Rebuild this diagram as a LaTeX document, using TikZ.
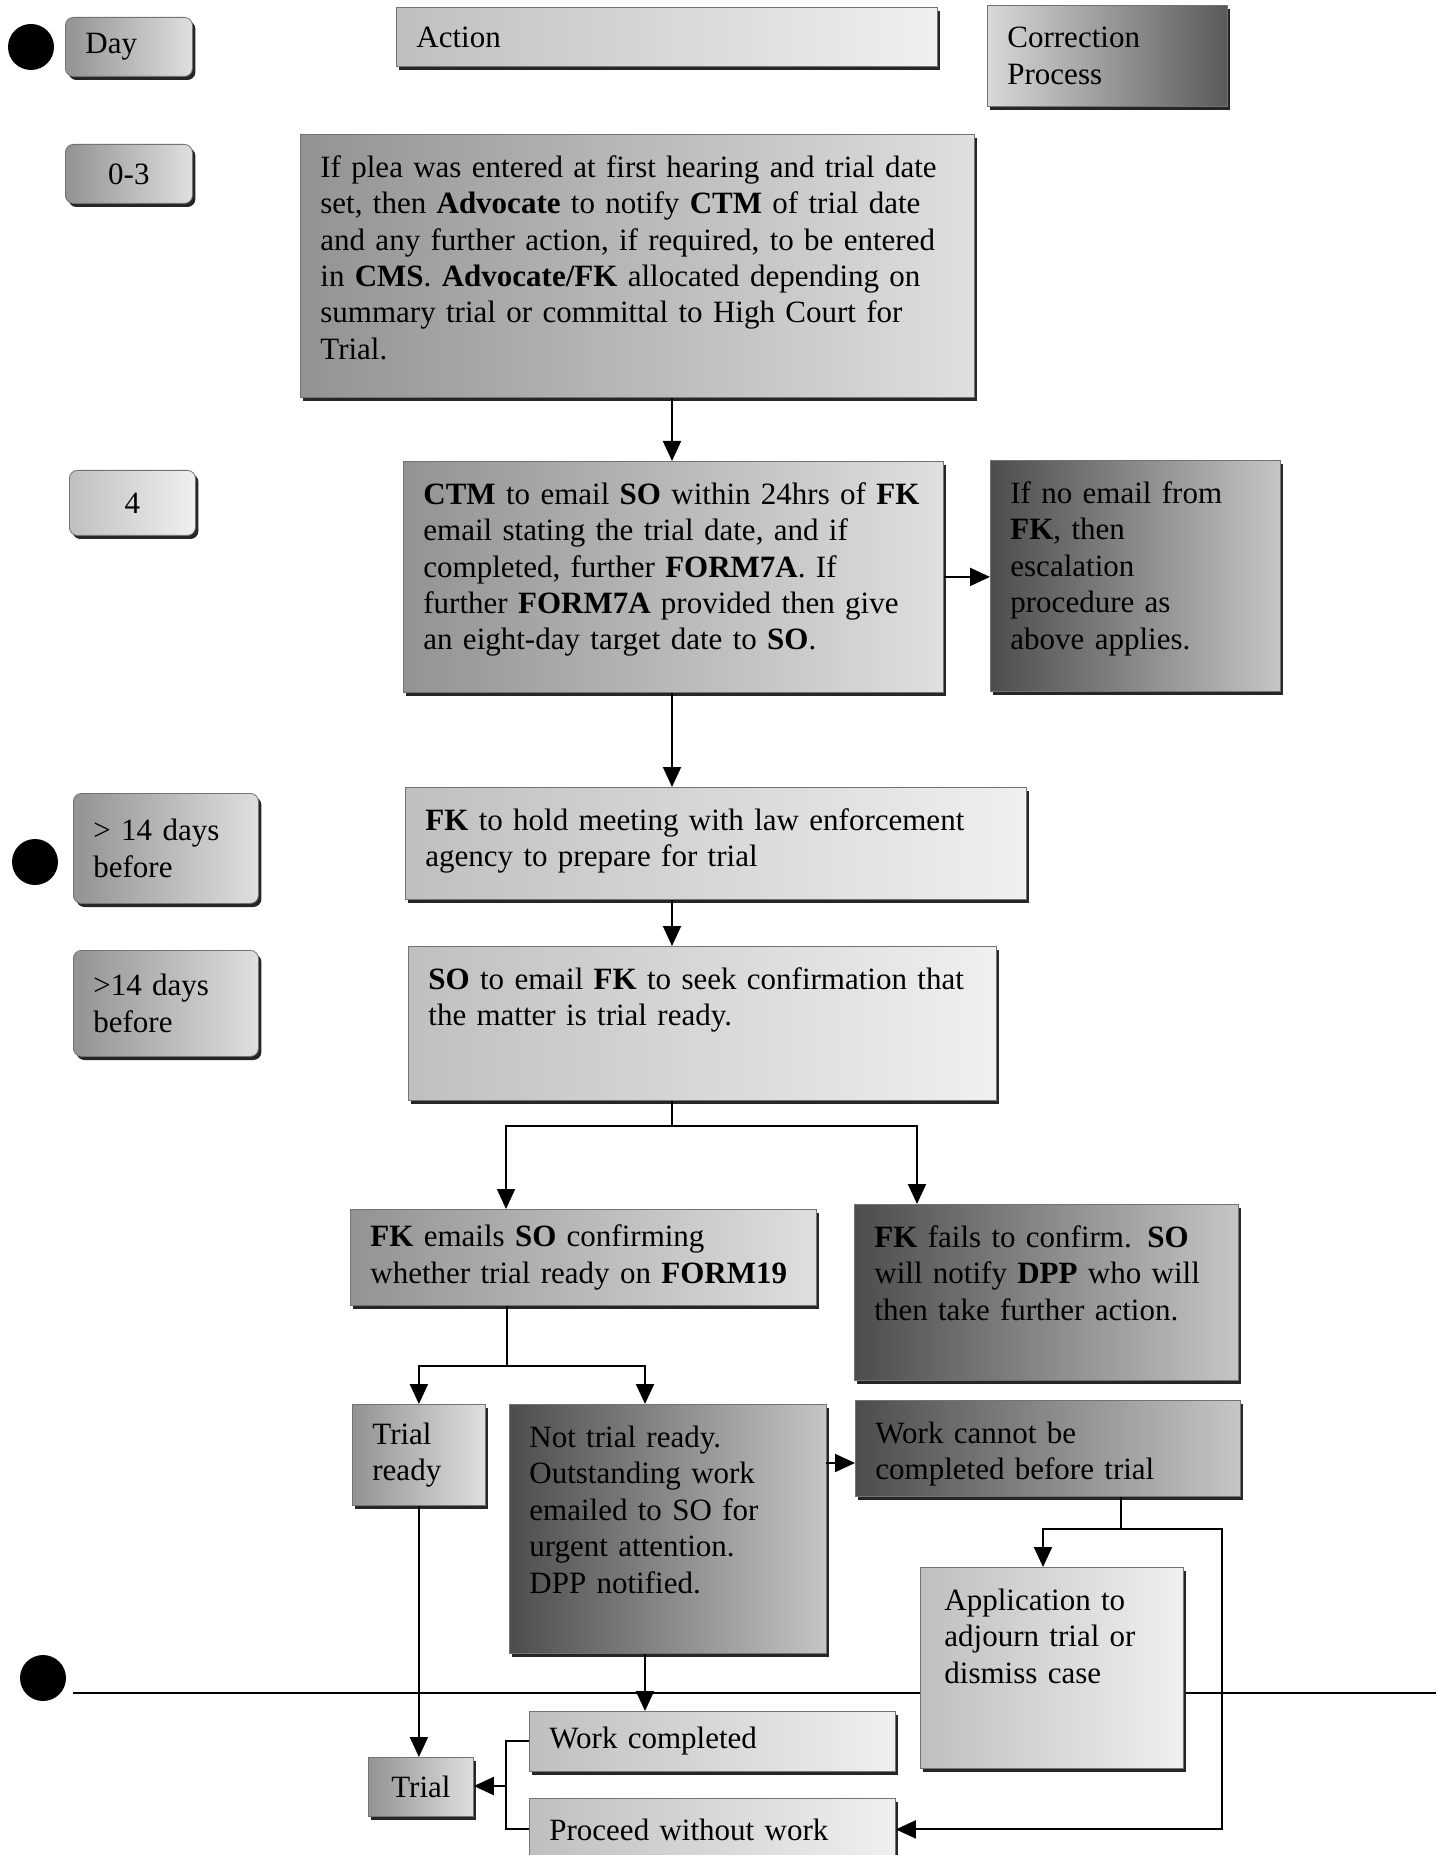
\documentclass[tikz,border=0pt]{standalone}
\usepackage{fontspec}
\setmainfont{Liberation Serif}
\usepackage{tikz}
\usetikzlibrary{positioning,arrows.meta,shadows}
\hyphenpenalty=10000
\exhyphenpenalty=10000
\tikzset{
  base/.style={draw=black!55,line width=0.4pt,font=\fontsize{15.5}{18.2}\selectfont,align=left,anchor=north west,inner xsep=10pt,
    drop shadow={shadow xshift=1.5pt,shadow yshift=-1.8pt,fill=black!85,opacity=1}},
  cell/.style={base,inner ysep=10.5pt,text height=11pt},
  tag/.style={base,inner ysep=0pt},
  daybox/.style={tag,rounded corners=4pt},
  pale/.style={left color=gray!50,right color=gray!12},
  mid/.style={left color=gray!85,right color=gray!25},
  dark/.style={left color=black!70,right color=gray!45},
  darkright/.style={left color=gray!30,right color=black!65},
  edge/.style={-{Triangle[length=10pt,width=9pt]},line width=1pt},
  link/.style={line width=1pt},
  dot/.style={circle,fill=black,inner sep=0pt,minimum size=23pt}
}
\begin{document}
\begin{tikzpicture}[x=0.5pt,y=-0.5pt]
  \useasboundingbox (0,0) rectangle (1436,1855);

  % trial day rule
  \draw[link] (73,1693) -- (1436,1693);
  \node[dot] (mark1) at (31,47) {};
  \node[dot] (mark2) at (35,862) {};
  \node[dot] (mark3) at (43,1678) {};

  % headings
  \node[daybox,mid,text width=43.5pt,minimum height=29.5pt] (day) at (65,17) {Day};
  \node[tag,pale,text width=250.5pt,minimum height=29.5pt] (action) at (396,7) {Action};
  \node[tag,darkright,text width=100pt,minimum height=50.5pt] (corr) at (987,5) {Correction\\Process};

  % days column
  \node[daybox,mid,align=center,text width=43.5pt,minimum height=29.5pt] (d03) at (65,144) {0-3};
  \node[daybox,pale,align=center,text width=43pt,minimum height=32.5pt] (d4) at (69,470) {4};
  \node[daybox,mid,text width=72.5pt,minimum height=55pt] (dgt1) at (73,793) {> 14 days\\before};
  \node[daybox,mid,text width=72.5pt,minimum height=53pt] (dgt2) at (73,950) {>14 days\\before};

  % actions
  \node[cell,mid,text width=317pt,text depth=99.5pt] (plea) at (300,134)
    {If plea was entered at first hearing and trial date\\
     set, then \textbf{Advocate} to notify \textbf{CTM} of trial date\\
     and any further action, if required, to be entered\\
     in \textbf{CMS}. \textbf{Advocate/FK} allocated depending on\\
     summary trial or committal to High Court for\\
     Trial.};
  \node[cell,mid,text width=250pt,text depth=83.5pt] (ctm) at (403,461)
    {\textbf{CTM} to email \textbf{SO} within 24hrs of \textbf{FK}\\
     email stating the trial date, and if\\
     completed, further \textbf{FORM7A}.  If\\
     further \textbf{FORM7A} provided then give\\
     an eight-day target date to \textbf{SO}.};
  \node[cell,dark,text width=125pt,text depth=83.5pt] (noemail) at (990,460)
    {If no email from\\ \textbf{FK}, then\\ escalation\\ procedure as\\ above applies.};
  \node[cell,pale,text width=290.5pt,text depth=24pt] (meet) at (405,787)
    {\textbf{FK} to hold meeting with law enforcement\\ agency to prepare for trial};
  \node[cell,pale,text width=274pt,text depth=45pt] (conf) at (408,946)
    {\textbf{SO} to email \textbf{FK} to seek confirmation that\\ the matter is trial ready.};
  \node[tag,mid,text width=213pt,minimum height=48pt] (form19) at (350,1209)
    {\textbf{FK} emails \textbf{SO} confirming\\ whether trial ready on \textbf{FORM19}};
  \node[cell,dark,text width=172pt,text depth=56pt] (fails) at (854,1204)
    {\textbf{FK} fails to confirm.  \textbf{SO}\\ will notify \textbf{DPP} who will\\ then take further action.};
  \node[tag,mid,text width=46.5pt,minimum height=50.5pt] (ready) at (352,1404) {Trial\\ready};
  \node[cell,dark,text width=138.5pt,text depth=92.5pt] (notready) at (509,1404)
    {Not trial ready.\\ Outstanding work\\ emailed to SO for\\ urgent attention.\\ DPP notified.};
  \node[cell,dark,text width=172.5pt,text depth=16pt] (cannot) at (855,1400)
    {Work cannot be\\ completed before trial};
  \node[cell,pale,inner xsep=12pt,text width=107.5pt,text depth=68.5pt] (adjourn) at (920,1567)
    {Application to\\ adjourn trial or\\ dismiss case};
  \node[tag,pale,text width=163pt,minimum height=30pt] (done) at (529,1711) {Work completed};
  \node[tag,pale,text width=163pt,minimum height=31pt] (proceed) at (529,1798) {Proceed without work};
  \node[tag,mid,align=center,text width=32.5pt,minimum height=29.5pt] (trial) at (368,1757) {Trial};

  % connectors
  \coordinate (spine) at (672,0);
  \coordinate (fork1) at (672,1126);
  \coordinate (fork1L) at (506,1126);
  \coordinate (fork1R) at (917,1126);
  \coordinate (fork2) at (507,1366);
  \coordinate (fork2R) at (645,1366);
  \coordinate (nrout) at (826,1463);
  \coordinate (fork3) at (1121,1529);
  \coordinate (fork3L) at (1043,1529);
  \coordinate (fork3R) at (1222,1529);
  \coordinate (join) at (506,1786);

  \draw[edge] (plea.south -| spine) -- (ctm.north -| spine);
  \draw[edge] (ctm.east) -- (ctm.east -| noemail.west);
  \draw[edge] (ctm.south -| spine) -- (meet.north -| spine);
  \draw[edge] (meet.south -| spine) -- (conf.north -| spine);
  \draw[link] (conf.south -| spine) -- (fork1);
  \draw[edge] (fork1) -| (form19.north -| fork1L);
  \draw[edge] (fork1) -| (fails.north -| fork1R);
  \draw[link] (form19.south -| fork2) -- (fork2);
  \draw[edge] (fork2) -| (ready.north);
  \draw[edge] (fork2) -| (notready.north -| fork2R);
  \draw[edge] (nrout) -- (nrout -| cannot.west);
  \draw[link] (cannot.south -| fork3) -- (fork3);
  \draw[edge] (fork3) -| (adjourn.north -| fork3L);
  \draw[edge] (fork3) -- (fork3R) |- (proceed.east);
  \draw[edge] (notready.south -| fork2R) -- (done.north -| fork2R);
  \draw[edge] (ready.south) -- (ready.south |- trial.north);
  \draw[link] (done.west) -| (join) |- (proceed.west);
  \draw[edge] (join) -- (join -| trial.east);
\end{tikzpicture}
\end{document}
